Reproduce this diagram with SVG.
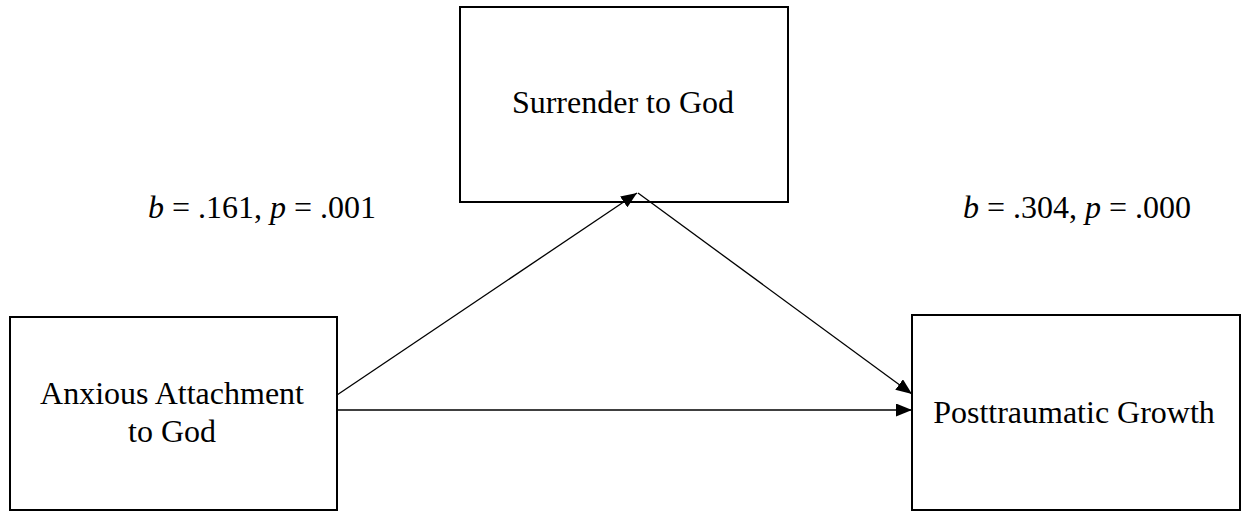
<svg xmlns="http://www.w3.org/2000/svg" width="1242" height="512" viewBox="0 0 1242 512">
<style>
.box{fill:#fff;stroke:#000;stroke-width:2}
.t{font-family:"Liberation Serif","Times New Roman",serif;font-size:32px;fill:#000}
.c{stroke:#000;stroke-width:1.3;fill:none}
.i{font-style:italic}
</style>
<defs>
<marker id="ah" markerWidth="16" markerHeight="13" refX="16" refY="6.5" orient="auto" markerUnits="userSpaceOnUse">
<path d="M0,0 L16,6.5 L0,13 Z" fill="#000"/>
</marker>
</defs>
<rect width="1242" height="512" fill="#fff"/>
<g id="surrender">
<rect class="box" x="460" y="7" width="328" height="195"/>
<text class="t" x="623" y="113" text-anchor="middle">Surrender to God</text>
</g>
<g id="anxious">
<rect class="box" x="10" y="317" width="327" height="193"/>
<text class="t" x="172" y="404" text-anchor="middle">Anxious Attachment</text>
<text class="t" x="172" y="442" text-anchor="middle">to God</text>
</g>
<g id="growth">
<rect class="box" x="912" y="315" width="328" height="195"/>
<text class="t" x="1074" y="423" text-anchor="middle">Posttraumatic Growth</text>
</g>
<g id="connectors">
<line class="c" x1="337" y1="395" x2="637" y2="193" marker-end="url(#ah)"/>
<line class="c" x1="638" y1="193" x2="912" y2="394" marker-end="url(#ah)"/>
<line class="c" x1="337" y1="410" x2="912" y2="410" marker-end="url(#ah)"/>
</g>
<g id="labels">
<text class="t" x="148" y="218"><tspan class="i">b</tspan> = .161, <tspan class="i">p</tspan> = .001</text>
<text class="t" x="963" y="218"><tspan class="i">b</tspan> = .304, <tspan class="i">p</tspan> = .000</text>
</g>
</svg>
